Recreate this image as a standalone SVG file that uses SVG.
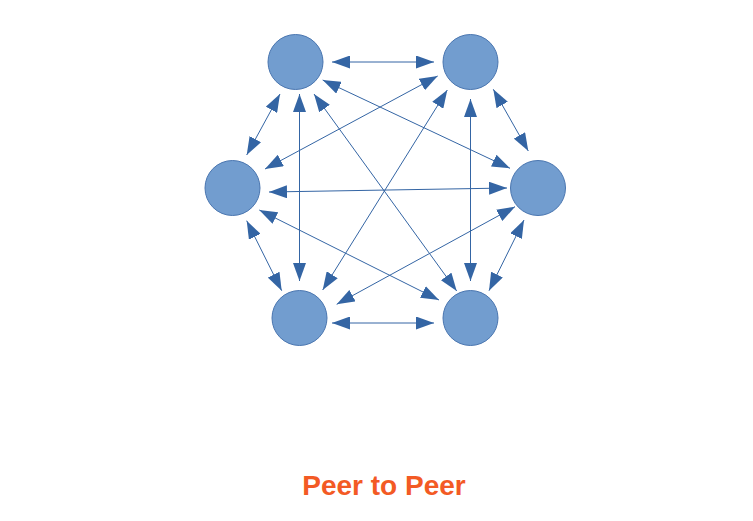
<svg xmlns="http://www.w3.org/2000/svg" width="753" height="521" viewBox="0 0 753 521">
  <style>
    .node { fill: #729dcf; stroke: #4a76b0; stroke-width: 1; }
    .conn { stroke: #3465a4; stroke-width: 1; fill: none; marker-start: url(#ah); marker-end: url(#ah); }
    .title { font-family: "Liberation Sans", Arial, sans-serif; font-weight: bold; font-size: 28px; fill: #f35a24; }
  </style>
  <defs>
    <marker id="ah" markerUnits="userSpaceOnUse" markerWidth="19" markerHeight="13" refX="18" refY="6.5" orient="auto-start-reverse">
      <path d="M0,0 L18,6.5 L0,13 z" fill="#3465a4"/>
    </marker>
  </defs>
  <rect width="753" height="521" fill="#ffffff"/>
  <g id="connectors">
    <line class="conn" x1="332" y1="62" x2="434" y2="62"/>
    <line class="conn" x1="280" y1="94" x2="246.7" y2="155"/>
    <line class="conn" x1="493.3" y1="89.3" x2="528.3" y2="151"/>
    <line class="conn" x1="322.7" y1="80" x2="510" y2="168.3"/>
    <line class="conn" x1="437.7" y1="76" x2="265" y2="169"/>
    <line class="conn" x1="314" y1="94" x2="456.7" y2="291"/>
    <line class="conn" x1="447.3" y1="90" x2="322.7" y2="290"/>
    <line class="conn" x1="299.5" y1="94" x2="299.5" y2="281"/>
    <line class="conn" x1="470.5" y1="99" x2="470.5" y2="281"/>
    <line class="conn" x1="269" y1="192" x2="507" y2="188"/>
    <line class="conn" x1="246.7" y1="220.7" x2="281.7" y2="290.7"/>
    <line class="conn" x1="259.3" y1="210" x2="439" y2="300"/>
    <line class="conn" x1="515" y1="206.7" x2="336.7" y2="304.3"/>
    <line class="conn" x1="524" y1="220" x2="489" y2="290.7"/>
    <line class="conn" x1="332" y1="323" x2="434" y2="323"/>
  </g>
  <g id="node-top-left"><circle class="node" cx="295.5" cy="62" r="27.5"/></g>
  <g id="node-top-right"><circle class="node" cx="470.5" cy="62" r="27.5"/></g>
  <g id="node-left"><circle class="node" cx="232.5" cy="188" r="27.5"/></g>
  <g id="node-right"><circle class="node" cx="538" cy="188" r="27.5"/></g>
  <g id="node-bottom-left"><circle class="node" cx="299.5" cy="318" r="27.5"/></g>
  <g id="node-bottom-right"><circle class="node" cx="470.5" cy="318" r="27.5"/></g>
  <text class="title" x="384" y="495" text-anchor="middle">Peer to Peer</text>
</svg>
